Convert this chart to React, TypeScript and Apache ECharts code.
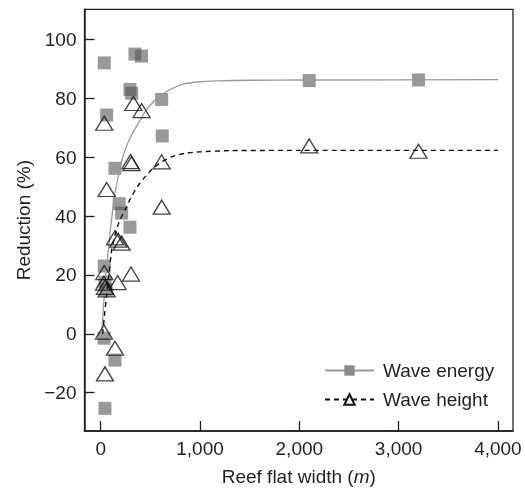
import { useEffect, useRef } from "react";
import * as echarts from "echarts";

// Wave energy reduction (grey squares)
const energyX = [36, 345, 411, 295, 312, 614, 60, 620, 144, 186, 211, 295, 36, 43, 55, 33, 144, 43, 2100, 3200];
const energyY = [92, 95, 94.3, 83, 81.7, 79.6, 74.3, 67.2, 56.2, 44.2, 41, 36.2, 23, 17.5, 15, -1.5, -8.9, -25.3, 86, 86.2];

// Wave height reduction (open triangles)
const heightX = [329, 412, 36, 300, 310, 614, 60, 614, 144, 177, 211, 36, 171, 305, 33, 43, 60, 33, 144, 43, 2100, 3200];
const heightY = [78.2, 75.8, 71.5, 58.5, 57.8, 58.4, 49, 43, 32.6, 31.8, 30.8, 20.8, 17.4, 20.3, 17.2, 15.8, 14.9, 0.6, -4.9, -13.6, 63.8, 62];

// Fitted curves
const energyFitX = [0, 10, 30, 50, 77, 110, 144, 190, 245, 310, 379, 450, 530, 620, 720, 830, 1000, 1170, 1500, 2040, 4000];
const energyFitY = [-1, 0.5, 10, 19, 28.5, 39, 47.7, 55.5, 62.4, 67.5, 71.5, 75.5, 78.8, 81.3, 83.3, 84.8, 85.6, 85.9, 86.1, 86.2, 86.3];
const heightFitX = [20, 40, 60, 85, 111, 140, 170, 205, 245, 300, 370, 446, 530, 620, 720, 850, 1000, 1300, 2000, 4000];
const heightFitY = [0, 7, 13, 21, 28.5, 33, 36.5, 39.5, 42, 46, 50, 53.3, 56.3, 58.5, 60.2, 61.3, 61.8, 62.2, 62.3, 62.3];

const xTicks = [0, 1000, 2000, 3000, 4000];
const yTicks = [-20, 0, 20, 40, 60, 80, 100];

const zip = (xs: number[], ys: number[]) => xs.map((x, i) => [x, ys[i]]);

export default function App() {
  const ref = useRef<HTMLDivElement>(null);
  useEffect(() => {
    const chart = echarts.init(ref.current as HTMLDivElement, null, { renderer: "svg" });
    const font = "'Liberation Sans', Arial, sans-serif";
    const ink = "#231f20";
    chart.setOption({
      animation: false,
      textStyle: { fontFamily: font, color: ink },
      grid: {
        left: 84.5,
        right: 12,
        top: 9.3,
        bottom: 60,
        show: true,
        borderColor: ink,
        borderWidth: 1.3,
        backgroundColor: "transparent",
      },
      xAxis: {
        type: "value",
        min: -163,
        max: 4152,
        name: "Reef flat width ({i|m})",
        nameLocation: "middle",
        nameGap: 36,
        nameTextStyle: {
          fontSize: 19,
          color: ink,
          fontFamily: font,
          rich: { i: { fontStyle: "italic", fontSize: 19, fontFamily: font, color: ink } },
        },
        axisLine: { show: true, onZero: false, lineStyle: { color: ink, width: 1.5 } },
        axisTick: { show: true, inside: true, length: 10, customValues: xTicks, lineStyle: { color: ink, width: 1.3 } },
        axisLabel: {
          customValues: xTicks,
          fontSize: 19,
          color: ink,
          margin: 8,
          formatter: (v: number) => v.toLocaleString("en-US"),
        },
        splitLine: { show: false },
      },
      yAxis: {
        type: "value",
        min: -33,
        max: 110.2,
        name: "Reduction (%)",
        nameLocation: "middle",
        nameRotate: 90,
        nameGap: 50,
        nameTextStyle: { fontSize: 19, color: ink, fontFamily: font },
        axisLine: { show: true, onZero: false, lineStyle: { color: ink, width: 1.5 } },
        axisTick: { show: true, inside: true, length: 10, customValues: yTicks, lineStyle: { color: ink, width: 1.3 } },
        axisLabel: {
          customValues: yTicks,
          fontSize: 19,
          color: ink,
          margin: 8,
          formatter: (v: number) => String(v).replace("-", "\u2212"),
        },
        splitLine: { show: false },
      },
      legend: {
        data: ["Wave energy", "Wave height"],
        orient: "vertical",
        left: 324,
        top: 361,
        padding: 0,
        itemWidth: 49,
        itemHeight: 13,
        itemGap: 10,
        textStyle: { fontSize: 19, color: ink, fontFamily: font, padding: [0, 0, 0, 4] },
      },
      series: [
        {
          name: "Wave energy data",
          type: "scatter",
          data: zip(energyX, energyY),
          symbol: "rect",
          symbolSize: 13,
          itemStyle: { color: "#555555", opacity: 0.6 },
          z: 2,
        },
        {
          name: "Wave energy",
          type: "line",
          data: zip(energyFitX, energyFitY),
          symbol: "rect",
          showSymbol: false,
          smooth: 0.2,
          lineStyle: { color: "#9a9a9a", width: 1.3 },
          itemStyle: { color: "#8a8a8a" },
          z: 3,
        },
        {
          name: "Wave height",
          type: "line",
          data: zip(heightFitX, heightFitY),
          symbol: "triangle",
          showSymbol: false,
          smooth: 0.2,
          lineStyle: { color: "#111111", width: 1.4, type: [5, 4] },
          itemStyle: { color: "#ffffff", borderColor: "#111111", borderWidth: 1.2 },
          z: 3,
        },
        {
          name: "Wave height data",
          type: "scatter",
          data: zip(heightX, heightY),
          symbol: "triangle",
          symbolSize: [17, 14],
          itemStyle: { color: "rgba(0,0,0,0)", borderColor: "#111111", borderWidth: 1.3 },
          z: 4,
        },
      ],
    });
    return () => chart.dispose();
  }, []);
  return <div ref={ref} style={{ position: "fixed", left: 0, top: 0, width: 525, height: 491 }} />;
}
